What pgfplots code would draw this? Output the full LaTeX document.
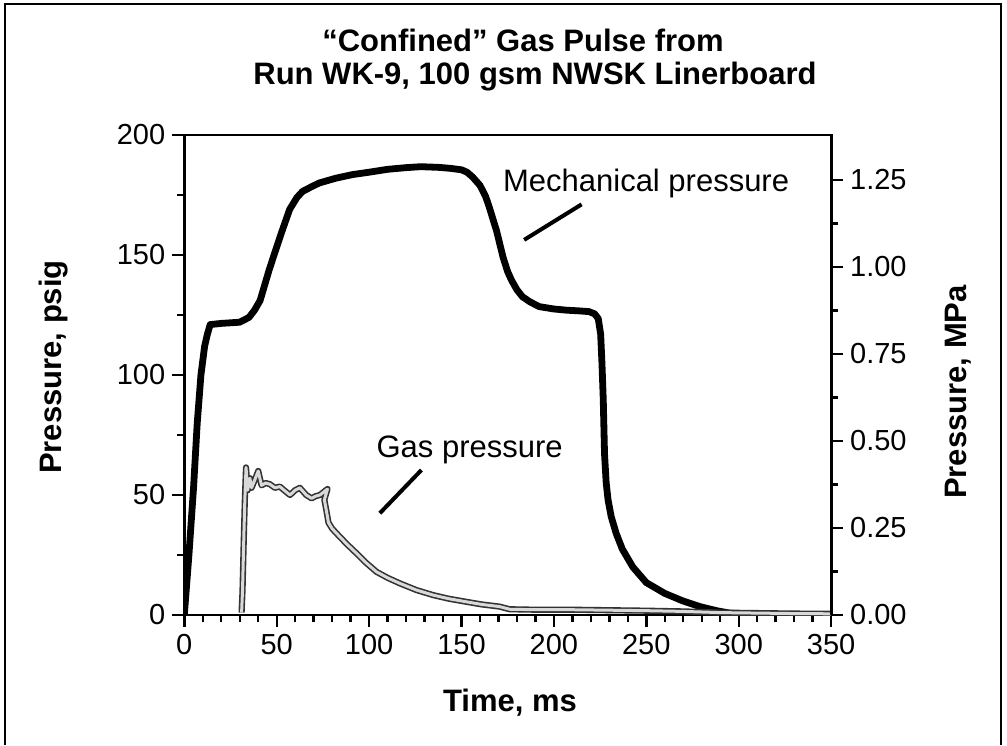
\documentclass[border=0pt]{standalone}
\usepackage{fontspec}
\setmainfont{Liberation Sans}
\usepackage{pgfplots}
\pgfplotsset{compat=1.18}

\pgfplotsset{
  gasaxis/.style={
    at={(92.15pt,65pt)}, anchor=south west,
    scale only axis, width=323.4pt, height=240pt,
    xmin=0, xmax=350,
    tick align=outside,
    major tick length=6pt, minor tick length=3.5pt,
    every tick/.style={black, line width=1.2pt},
    axis line style={line width=1.4pt},
    tick label style={font=\fontsize{14.5}{17}\selectfont},
    /pgf/number format/assume math mode=true,
  }
}

\begin{document}
\begin{tikzpicture}
\useasboundingbox (0pt,0pt) rectangle (503.5pt,372.5pt);
% outer frame
\draw[line width=1.4pt] (2.5pt,0pt) -- (2.5pt,370.5pt) -- (500.5pt,370.5pt) -- (500.5pt,0pt);

% titles and labels
\node[font=\fontsize{15.5}{18}\selectfont\bfseries] at (261.5pt,352.5pt) {“Confined” Gas Pulse from};
\node[font=\fontsize{15.5}{18}\selectfont\bfseries] at (267.5pt,334pt) {Run WK-9, 100 gsm NWSK Linerboard};
\node[font=\fontsize{15.5}{18}\selectfont\bfseries, rotate=90] at (27pt,189pt) {Pressure, psig};
\node[font=\fontsize{15.5}{18}\selectfont\bfseries, rotate=90] at (479pt,176.5pt) {Pressure, MPa};
\node[font=\fontsize{15.5}{18}\selectfont\bfseries] at (255pt,21pt) {Time, ms};

\begin{axis}[
    gasaxis,
    ymin=0, ymax=200,
    xtick={0,50,...,350}, minor x tick num=4,
    ytick={0,50,...,200}, minor y tick num=1,
    xtick pos=lower, ytick pos=left,
]

% mechanical pressure
\addplot[black, line width=3.4pt, line join=round] coordinates {
 (0,0) (2.5,25) (5,53) (7,80) (9,100) (11,112) (12.5,117) (14,121)
 (20,121.5) (30,122) (35,124) (38,127) (41,131) (46,144) (52,158)
 (57,169) (61,174) (64,176.5) (69,178.5) (73,180) (82,182) (91,183.5)
 (100,184.5) (110,185.7) (120,186.4) (128,186.8) (138,186.5) (144,186.1)
 (150,185.5) (153,184.5) (156,182.5) (160,179) (163,174.5) (165,170)
 (167,165) (169,160) (172.5,149) (175,143) (177,139.6) (180,135.5)
 (183,132.6) (187,130.5) (192,128.5) (200,127.5) (207,127) (214,126.7)
 (219,126.4) (222,125.5) (224,123.5) (225.3,117) (226,105) (226.7,90)
 (227.4,67) (228.3,55) (229.3,48) (231,41) (233.7,34) (237,27.5)
 (242.7,20) (250,13.5) (260,9) (270,5.8) (279,3.5) (288,1.8) (295,0.8) (300,0.5)
};

% gas pressure
\addplot[black!80, line width=0.8pt, double=black!15, double distance=1.5pt, line join=round] coordinates {
 (31,1) (31.5,10) (32.3,35) (32.8,49) (33.4,61.5) (34.3,52) (35.5,57)
 (36.4,53) (38,56) (40,60) (41.8,54) (44,55) (46.3,54.5) (49,53)
 (51.7,53.5) (54,52) (57.2,50) (60,52) (62.5,53) (66,50) (68.9,48.6)
 (71,49.5) (73.4,50) (77.5,52.5) (75.8,48) (77,43) (78,38.5) (80,36)
 (82.4,34) (88,29.5) (93.2,25.7) (98,22) (104,18) (110,15.5) (116.6,13.2)
 (125.6,10.4) (134.6,8.3) (143,6.8) (152.6,5.5) (161,4.4) (170.6,3.5)
 (176,2.4) (190,2.2) (210,2.2) (230,2) (250,1.8) (270,1.5) (290,1)
 (310,0.8) (330,0.6) (350,0.5)
};

% annotations
\node[font=\fontsize{15.5}{18}\selectfont] at (axis cs:249.9,180) {Mechanical pressure};
\draw[line width=2pt] (axis cs:183.9,156.3) -- (axis cs:215,171.1);
\node[font=\fontsize{15.5}{18}\selectfont] at (axis cs:154.4,68.8) {Gas pressure};
\draw[line width=2pt] (axis cs:105.8,42.4) -- (axis cs:128.3,60.4);
\end{axis}

% right axis in MPa
\begin{axis}[
    gasaxis,
    ymin=0, ymax=1.37895,
    axis y line*=right, axis x line=none,
    ytick={0,0.25,...,1.25}, minor y tick num=1,
    yticklabel style={/pgf/number format/.cd, fixed, fixed zerofill, precision=2},
]
\end{axis}
\end{tikzpicture}
\end{document}
